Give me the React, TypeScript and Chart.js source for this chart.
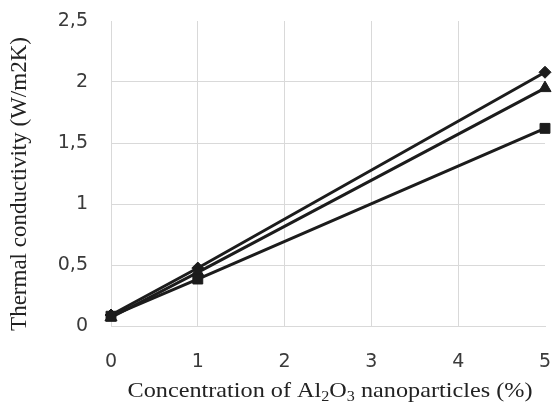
import React, { useEffect, useRef } from "react";
import { Chart, registerables } from "chart.js";

Chart.register(...registerables);

const concentrations = [0, 1, 5];
const seriesDiamond = [0.09, 0.475, 2.08];
const seriesTriangle = [0.07, 0.44, 1.95];
const seriesSquare = [0.08, 0.385, 1.62];
const yTicks = [0, 0.5, 1, 1.5, 2, 2.5];
const xTicks = [0, 1, 2, 3, 4, 5];
const yTitle = "Thermal conductivity (W/m2K)";
const xTitleParts: [string, boolean][] = [
  ["Concentration of Al", false],
  ["2", true],
  ["O", false],
  ["3", true],
  [" nanoparticles (%)", false],
];

const GRID = "#d9d9d9";
const INK = "#1c1c1c";

const titlesPlugin = {
  id: "titles",
  afterDraw(chart: any) {
    const ctx = chart.ctx as CanvasRenderingContext2D;
    ctx.save();
    ctx.fillStyle = "#222";
    ctx.font = "23px 'Liberation Serif'";
    ctx.textAlign = "center";
    ctx.textBaseline = "middle";
    ctx.translate(20, 184);
    ctx.rotate(-Math.PI / 2);
    ctx.fillText(yTitle, 0, 0);
    ctx.restore();

    ctx.save();
    ctx.fillStyle = "#222";
    const big = "21px 'Liberation Serif'";
    const small = "14px 'Liberation Serif'";
    let total = 0;
    for (const [t, sub] of xTitleParts) {
      ctx.font = sub ? small : big;
      total += ctx.measureText(t).width;
    }
    const targetWidth = 405;
    const sx = targetWidth / total;
    ctx.translate(330 - targetWidth / 2, 397);
    ctx.scale(sx, 1);
    let x = 0;
    ctx.textBaseline = "alphabetic";
    ctx.textAlign = "left";
    for (const [t, sub] of xTitleParts) {
      ctx.font = sub ? small : big;
      ctx.fillText(t, x, sub ? 4 : 0);
      x += ctx.measureText(t).width;
    }
    ctx.restore();
  },
};

const zeroPad = (s: any) => {
  s.paddingTop = 0;
  s.paddingBottom = 0;
  s.paddingLeft = 0;
  s.paddingRight = 0;
};

export default function App() {
  const ref = useRef<HTMLCanvasElement>(null);
  useEffect(() => {
    if (!ref.current) return;
    const mk = (data: number[], style: string, radius: number) => ({
      data: concentrations.map((c, i) => ({ x: c, y: data[i] })),
      borderColor: INK,
      backgroundColor: INK,
      borderWidth: 3,
      pointStyle: style,
      pointRadius: radius,
      pointBorderWidth: 1,
      pointBorderColor: INK,
      pointBackgroundColor: INK,
      clip: false as any,
      tension: 0,
    });
    const chart = new Chart(ref.current, {
      type: "line",
      data: {
        datasets: [
          mk(seriesSquare, "rect", 7),
          mk(seriesTriangle, "triangle", 7),
          mk(seriesDiamond, "rectRot", 6),
        ],
      },
      options: {
        animation: false,
        responsive: false,
        devicePixelRatio: 1,
        layout: { padding: { left: 0, top: 21, right: 4.5, bottom: 0 } },
        plugins: { legend: { display: false }, tooltip: { enabled: false } },
        scales: {
          x: {
            type: "linear",
            min: 0,
            max: 5,
            afterFit: (s: any) => {
              s.height = 76;
              zeroPad(s);
            },
            afterBuildTicks: (s: any) => {
              s.ticks = xTicks.map((v) => ({ value: v }));
            },
            grid: {
              drawTicks: false,
              color: (c: any) => (c.tick && c.tick.value === 5 ? "rgba(0,0,0,0)" : GRID),
              lineWidth: 1,
            },
            border: { color: GRID, width: 1 },
            ticks: {
              padding: 25,
              color: "#3a3a3a",
              font: { family: "'DejaVu Sans'", size: 19 },
              maxRotation: 0,
              callback: (v: any) => String(v),
            },
          },
          y: {
            type: "linear",
            min: 0,
            max: 2.5,
            afterFit: (s: any) => {
              s.width = 111;
              zeroPad(s);
            },
            afterBuildTicks: (s: any) => {
              s.ticks = yTicks.map((v) => ({ value: v }));
            },
            grid: {
              drawTicks: false,
              color: (c: any) => (c.tick && c.tick.value === 2.5 ? "rgba(0,0,0,0)" : GRID),
              lineWidth: 1,
            },
            border: { color: GRID, width: 1 },
            ticks: {
              padding: 23,
              color: "#3a3a3a",
              font: { family: "'DejaVu Sans'", size: 19 },
              callback: (v: any) => String(v).replace(".", ","),
            },
          },
        },
      },
      plugins: [titlesPlugin],
    });
    return () => chart.destroy();
  }, []);
  return (
    <div style={{ position: "absolute", left: 0, top: 0, width: 553, height: 402, background: "#fff" }}>
      <canvas ref={ref} width={553} height={402} style={{ width: 553, height: 402 }} />
    </div>
  );
}
